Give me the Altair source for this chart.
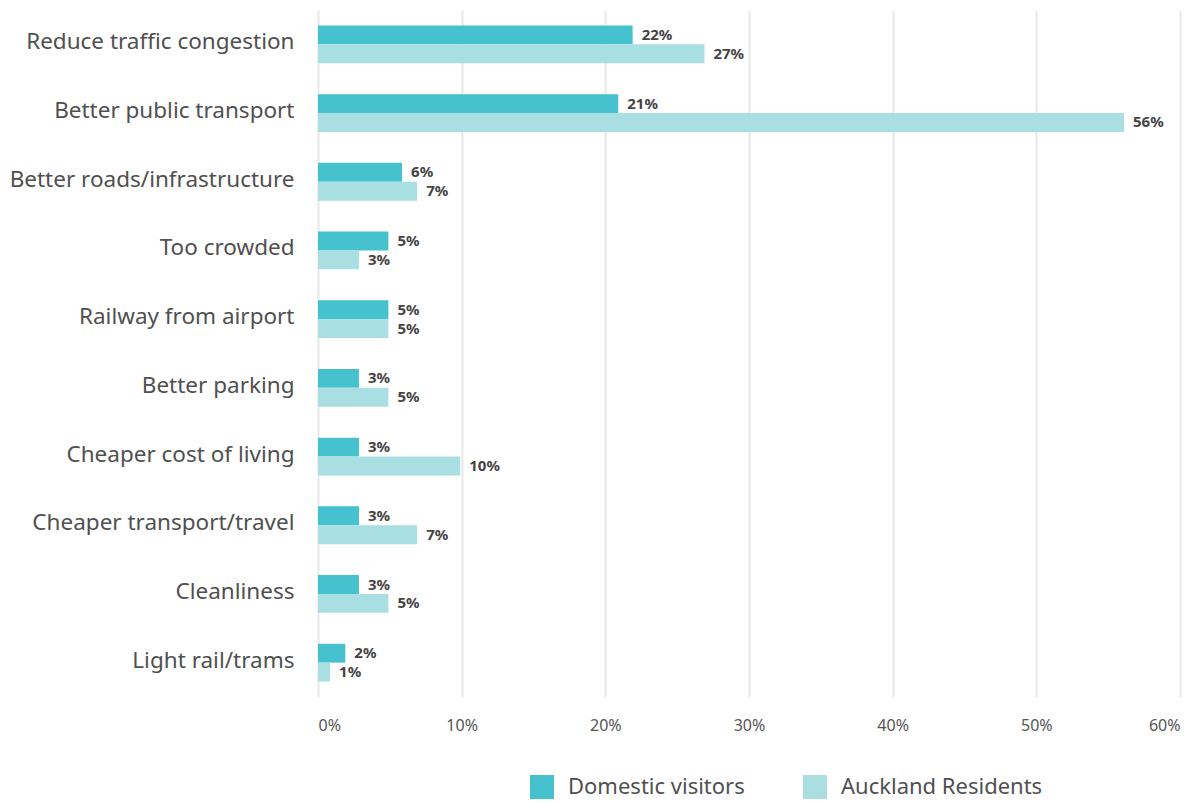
import altair as alt
import pandas as pd

categories = [
    "Reduce traffic congestion", "Better public transport", "Better roads/infrastructure",
    "Too crowded", "Railway from airport", "Better parking", "Cheaper cost of living",
    "Cheaper transport/travel", "Cleanliness", "Light rail/trams",
]
series = ["Domestic visitors", "Auckland Residents"]
domestic = [21.9, 20.9, 5.85, 4.9, 4.9, 2.85, 2.85, 2.85, 2.85, 1.9]
auckland = [26.9, 56.1, 6.9, 2.85, 4.9, 4.9, 9.9, 6.9, 4.9, 0.84]
colors = ["#45C2CD", "#A9DEE3"]
x_ticks = [0, 10, 20, 30, 40, 50, 60]

rows = []
for c, d, a in zip(categories, domestic, auckland):
    rows.append({"category": c, "series": series[0], "value": d})
    rows.append({"category": c, "series": series[1], "value": a})
df = pd.DataFrame(rows)

FONT = "Noto Sans"

y_enc = alt.Y("category:N", sort=categories, title=None,
              scale=alt.Scale(paddingInner=0.45, paddingOuter=0.225),
              axis=alt.Axis(labelFontSize=22.5, labelColor="#505050", labelFont=FONT,
                            labelPadding=24, labelOffset=-2, ticks=False, domain=False,
                            labelLimit=400))
yoff = alt.YOffset("series:N", sort=series)

bars = alt.Chart(df).mark_bar().encode(
    x=alt.X("value:Q", title=None,
            scale=alt.Scale(domain=[0, 60], nice=False),
            axis=alt.Axis(values=x_ticks, labelExpr="datum.value + '%'", labelFontSize=16,
                          labelColor="#555555", labelFont=FONT, labelPadding=20,
                          ticks=False, domain=False, grid=True, gridColor="#E8E8E8",
                          gridWidth=2)),
    y=y_enc,
    yOffset=yoff,
    color=alt.Color("series:N", sort=series,
                    scale=alt.Scale(domain=series, range=colors),
                    legend=alt.Legend(orient="none", legendX=212, legendY=765,
                                      direction="horizontal", title=None,
                                      symbolType="square", symbolSize=576,
                                      symbolStrokeWidth=0, labelFontSize=22,
                                      labelFont=FONT, labelColor="#505050",
                                      labelLimit=400, columnPadding=58, labelOffset=14)),
)

labels = alt.Chart(df).transform_calculate(
    label="format(datum.value, '.0f') + '%'"
).mark_text(align="left", baseline="middle", dx=9, fontSize=15, fontWeight="bold",
            font=FONT, color="#444444").encode(
    x="value:Q",
    y=alt.Y("category:N", sort=categories),
    yOffset=yoff,
    text="label:N",
)

chart = (bars + labels).properties(
    width=862, height=687,
    padding={"left": 318, "top": 10, "right": 23, "bottom": 105},
    autosize=alt.AutoSizeParams(type="none"),
).configure_view(stroke=None)

chart.save("out.html", embed_options={"renderer": "svg", "actions": False})
